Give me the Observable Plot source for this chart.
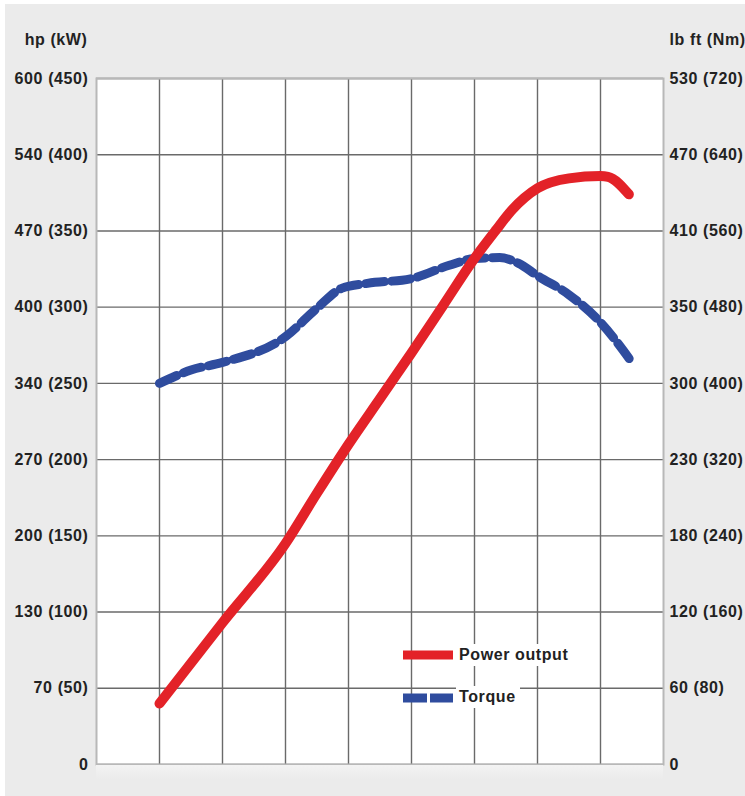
<!DOCTYPE html>
<html><head><meta charset="utf-8">
<script src="https://cdn.jsdelivr.net/npm/d3@7"></script>
<script src="https://cdn.jsdelivr.net/npm/@observablehq/plot@0.6"></script>
<style>
html,body{margin:0;padding:0;background:#fff;}
#wrap{position:relative;width:745px;height:796px;overflow:hidden;}
#chart{position:absolute;left:5px;top:4px;}
#chart svg, #chart svg text{font-family:"Liberation Sans",Arial,sans-serif !important;font-size:16px !important;font-weight:bold !important;letter-spacing:0.6px;}
.sw{position:absolute;}
.band{position:absolute;left:96px;top:765px;width:567px;height:14px;background:linear-gradient(#f3f3f3,#ebebeb);}
.lt{position:absolute;font:bold 16px "Liberation Sans",Arial,sans-serif;letter-spacing:0.6px;color:#222;background:#fff;padding:2px 4px 2px 3px;line-height:18px;}
</style></head><body>
<div id="wrap"><div id="chart"></div>
<div class="band"></div>
<svg class="sw" style="left:403px;top:648px" width="52" height="60">
  <line x1="0" x2="50" y1="7" y2="7" stroke="#e32228" stroke-width="9"/>
  <line x1="0" x2="50" y1="50" y2="50" stroke="#2f4c9e" stroke-width="9" stroke-dasharray="24,3"/>
</svg>
<div class="lt" style="left:456px;top:644px">Power output</div>
<div class="lt" style="left:456px;top:686px">Torque</div>
</div>
<script>
// x in grid steps (0..9), power in kW, torque in Nm
const powerX  = [1, 2, 3, 3.5, 4, 4.5, 5, 5.5, 6, 6.33, 6.6, 7, 7.5, 8, 8.12, 8.45];
const powerKW = [40, 93, 145, 178, 210, 240, 270, 301, 332, 350, 364, 378, 384.5, 386, 385.5, 374];
const torqueX  = [1, 1.5, 2, 3, 3.5, 3.9, 4.3, 5, 5.6, 6, 6.4, 6.7, 7, 7.5, 8, 8.5];
const torqueNm = [400, 414, 422, 449, 479, 500, 505, 510, 524, 531, 532, 526, 513, 493, 464, 422];
const kwTicks = [0, 50, 100, 150, 200, 250, 300, 350, 400, 450];
const hpLabels = ["0", "70 (50)", "130 (100)", "200 (150)", "270 (200)", "340 (250)", "400 (300)", "470 (350)", "540 (400)", "600 (450)"];
const lbftLabels = ["0", "60 (80)", "120 (160)", "180 (240)", "230 (320)", "300 (400)", "350 (480)", "410 (560)", "470 (640)", "530 (720)"];
const xGrid = [1, 2, 3, 4, 5, 6, 7, 8];
const nmPerKwAxis = 720 / 450;

const power = powerX.map((x, i) => ({x, y: powerKW[i]}));
const torque = torqueX.map((x, i) => ({x, y: torqueNm[i] / nmPerKwAxis}));

const chart = Plot.plot({
  width: 740,
  height: 792,
  marginLeft: 91,
  marginRight: 82,
  marginTop: 74,
  marginBottom: 32,
  style: {background: "#ebebeb", color: "#222", overflow: "visible"},
  x: {domain: [0, 9], axis: null},
  y: {domain: [0, 450], axis: null},
  marks: [
    Plot.frame({fill: "white", stroke: null}),
    Plot.gridX(xGrid, {stroke: "#6a6a6a", strokeOpacity: 1, strokeWidth: 1.4}),
    Plot.gridY(kwTicks, {stroke: "#6a6a6a", strokeOpacity: 1, strokeWidth: 1.4}),
    Plot.frame({stroke: "#b8b8b8", strokeWidth: 2}),
    Plot.axisY(kwTicks, {anchor: "left", tickSize: 0, tickPadding: 8, label: null, fill: "#222", tickFormat: d => hpLabels[kwTicks.indexOf(d)]}),
    Plot.axisY(kwTicks, {anchor: "right", tickSize: 0, tickPadding: 6, label: null, fill: "#222", tickFormat: d => lbftLabels[kwTicks.indexOf(d)]}),
    Plot.text(["hp (kW)"], {frameAnchor: "top-left", textAnchor: "end", dx: -9, dy: -45, fill: "#222"}),
    Plot.text(["lb ft (Nm)"], {frameAnchor: "top-right", textAnchor: "start", dx: 6, dy: -45, fill: "#222"}),
    Plot.line(torque, {x: "x", y: "y", stroke: "#2f4c9e", strokeWidth: 9, strokeDasharray: "19,7", curve: "monotone-x"}),
    Plot.line(power, {x: "x", y: "y", stroke: "#e32228", strokeWidth: 10, curve: "monotone-x"})
  ]
});
document.getElementById("chart").appendChild(chart);
</script>
</body></html>
